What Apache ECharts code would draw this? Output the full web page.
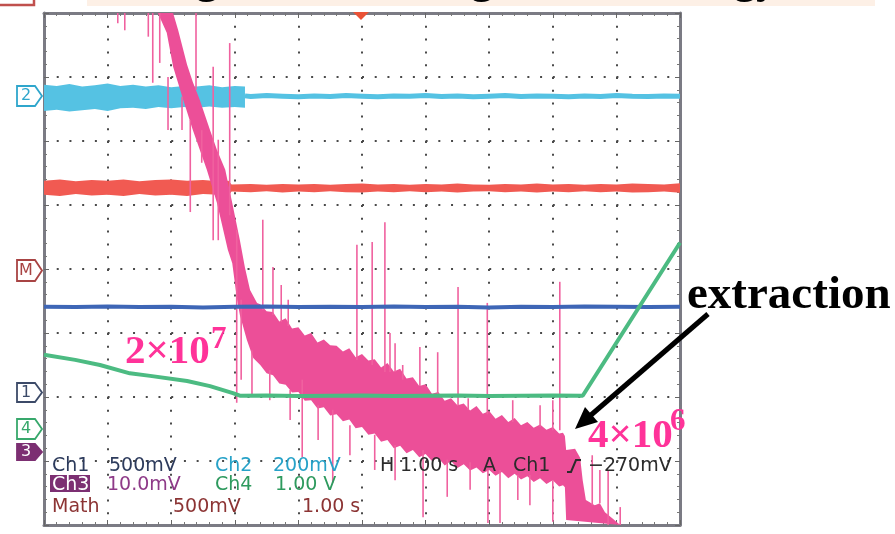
<!DOCTYPE html>
<html>
<head>
<meta charset="utf-8">
<script src="https://cdn.jsdelivr.net/npm/echarts@6/dist/echarts.min.js"></script>
<style>
html,body{margin:0;padding:0;background:#fff;}
#scope{width:895px;height:534px;}
</style>
</head>
<body>
<div id="scope"></div>
<script>
// Time base: 1.00 s/div, 10 divisions. Vertical values are in screen divisions (-4 .. 4).

// Ch2 (cyan): wide noisy band before the step, then a thin trace
const ch2BandT  = [0,0.2,0.4,0.6,0.8,1.0,1.2,1.4,1.6,1.8,2.0,2.2,2.4,2.6,2.8,3.0,3.16];
const ch2BandHi = [2.88,2.86,2.89,2.85,2.87,2.90,2.86,2.88,2.85,2.87,2.84,2.86,2.85,2.87,2.84,2.86,2.85];
const ch2BandLo = [2.47,2.49,2.46,2.48,2.50,2.47,2.51,2.52,2.50,2.53,2.51,2.53,2.52,2.54,2.52,2.53,2.52];
const ch2LineT  = [3.16,3.25,3.5,3.75,4,4.25,4.5,4.75,5,5.25,5.5,5.75,6,6.25,6.5,6.75,7,7.25,7.5,7.75,8,8.25,8.5,8.75,9,9.25,9.5,9.75,10];
const ch2LineV  = [2.705,2.695,2.71,2.70,2.69,2.705,2.695,2.71,2.70,2.69,2.705,2.70,2.71,2.695,2.705,2.69,2.70,2.71,2.695,2.705,2.70,2.69,2.705,2.695,2.71,2.70,2.695,2.705,2.70];

// Red trace: oscillating band, narrower after ~2.9 s
const redT  = [0,0.25,0.5,0.75,1,1.25,1.5,1.75,2,2.25,2.5,2.75,2.9,2.95,3.25,3.5,3.75,4,4.25,4.5,4.75,5,5.25,5.5,5.75,6,6.25,6.5,6.75,7,7.25,7.5,7.75,8,8.25,8.5,8.75,9,9.25,9.5,9.75,10];
const redHi = [1.38,1.40,1.37,1.39,1.38,1.40,1.37,1.39,1.40,1.38,1.39,1.37,1.38,
               1.32,1.33,1.315,1.33,1.32,1.33,1.315,1.33,1.335,1.32,1.33,1.315,1.33,1.32,1.335,1.32,1.315,1.33,1.32,1.335,1.32,1.33,1.315,1.33,1.32,1.335,1.33,1.32,1.34];
const redLo = [1.16,1.14,1.17,1.15,1.16,1.14,1.17,1.15,1.16,1.14,1.17,1.16,1.15,
               1.21,1.20,1.215,1.195,1.21,1.20,1.215,1.20,1.195,1.21,1.20,1.215,1.20,1.21,1.195,1.21,1.215,1.20,1.21,1.195,1.21,1.20,1.215,1.20,1.21,1.195,1.20,1.21,1.19];

// Ch1 (dark blue): flat trace
const ch1T = [0,0.5,1,1.5,2,2.5,3,3.5,4,4.5,5,5.5,6,6.5,7,7.5,8,8.5,9,9.5,10];
const ch1V = [-0.59,-0.595,-0.585,-0.595,-0.59,-0.60,-0.59,-0.585,-0.595,-0.59,-0.595,-0.585,-0.595,-0.59,-0.60,-0.59,-0.595,-0.585,-0.59,-0.595,-0.59];

// Ch4 (green): ramp down, flat top, ramp up at extraction
const ch4T = [0,0.49,0.88,1.35,1.67,2.25,2.61,2.97,3.08,3.5,4,4.5,5,5.5,6,6.5,7,7.5,8,8.47,10];
const ch4V = [-1.34,-1.42,-1.50,-1.63,-1.67,-1.75,-1.83,-1.94,-1.98,-1.975,-1.985,-1.98,-1.975,-1.985,-1.98,-1.975,-1.985,-1.98,-1.975,-1.98,0.41];

// Math (pink): upper and lower envelope of the intensity trace
const mathUpT = [1.79,2.03,2.11,2.25,2.34,2.45,2.61,2.72,2.85,2.96,3.08,3.16,3.24,3.35,
  3.4,3.5,3.6,3.7,3.8,3.9,4.0,4.1,4.2,4.3,4.4,4.5,4.6,4.7,4.8,4.9,5.0,5.1,5.2,5.3,5.4,5.5,5.6,5.7,5.8,5.9,
  6.0,6.1,6.2,6.3,6.4,6.5,6.6,6.7,6.8,6.9,7.0,7.1,7.2,7.3,7.4,7.5,7.6,7.7,7.8,7.9,8.0,8.1,
  8.16,8.19,8.21,8.35,8.43,8.47,8.52,8.66,8.74,8.82,8.93,9.06];
const mathUpV = [4.0,4.0,3.73,3.19,2.92,2.64,2.17,1.86,1.55,1.03,0.45,0.02,-0.33,-0.53,
  -0.55,-0.66,-0.67,-0.82,-0.77,-0.93,-0.91,-1.04,-1.00,-1.15,-1.10,-1.19,-1.20,-1.29,-1.24,-1.38,-1.33,-1.43,-1.41,-1.54,-1.47,-1.60,-1.56,-1.71,-1.69,-1.83,
  -1.80,-1.95,-1.92,-2.06,-2.02,-2.13,-2.10,-2.21,-2.14,-2.26,-2.22,-2.34,-2.28,-2.39,-2.33,-2.44,-2.39,-2.48,-2.43,-2.51,-2.47,-2.57,
  -2.56,-2.61,-2.83,-2.81,-2.95,-3.30,-3.61,-3.69,-3.66,-3.80,-3.89,-4.0];
const mathLoT = [1.79,1.93,2.03,2.19,2.34,2.56,2.72,2.89,2.96,3.03,3.08,3.19,3.29,
  3.4,3.5,3.6,3.7,3.8,3.9,4.0,4.1,4.2,4.3,4.4,4.5,4.6,4.7,4.8,4.9,5.0,5.1,5.2,5.3,5.4,5.5,5.6,5.7,5.8,5.9,
  6.0,6.1,6.2,6.3,6.4,6.5,6.6,6.7,6.8,6.9,7.0,7.1,7.2,7.3,7.4,7.5,7.6,7.7,7.8,7.9,8.0,8.1,
  8.16,8.19,8.21,9.06];
const mathLoV = [4.0,3.69,3.16,2.64,2.17,1.55,1.03,0.30,0.09,-0.44,-0.72,-1.11,-1.39,
  -1.50,-1.63,-1.66,-1.79,-1.81,-1.93,-1.92,-2.06,-2.05,-2.18,-2.16,-2.29,-2.27,-2.38,-2.35,-2.49,-2.47,-2.59,-2.57,-2.70,-2.67,-2.80,-2.76,-2.88,-2.83,-2.94,
  -2.89,-3.00,-2.95,-3.07,-3.00,-3.11,-3.05,-3.15,-3.10,-3.19,-3.14,-3.23,-3.17,-3.27,-3.20,-3.29,-3.24,-3.33,-3.27,-3.36,-3.30,-3.40,
  -3.38,-3.41,-3.92,-4.0];

// Math glitches: [time, top, bottom]
const mathSpikes = [
  [1.16,4.0,3.84],[1.27,4.0,3.73],[1.64,4.0,3.63],[1.71,4.0,2.91],[1.82,4.0,3.22],
  [1.95,3.0,2.17],[2.17,2.69,2.17],[2.30,2.33,0.89],[2.39,4.0,2.80],[2.48,2.17,1.66],
  [2.66,3.16,0.45],[2.74,2.02,0.45],[2.92,3.53,0.84],[3.03,0.61,-2.09],[3.10,-0.48,-1.73],
  [3.27,-1.27,-1.97],[3.44,0.77,-0.64],[3.55,-1.58,-2.05],[3.60,0.03,-0.72],[3.73,-0.25,-0.83],
  [3.84,-0.48,-0.89],[3.87,-1.89,-2.36],[4.06,-1.73,-2.94],[4.31,-2.13,-2.67],[4.54,-2.20,-3.34],
  [4.81,-2.44,-2.91],[4.92,0.38,-1.42],[5.16,0.42,-1.50],[5.20,-2.59,-3.14],[5.36,0.73,-1.61],
  [5.44,-1.0,-1.61],[5.52,-1.16,-1.61],[5.52,-2.75,-3.30],[5.64,-1.50,-1.73],[5.91,-1.22,-1.83],
  [5.96,-2.83,-3.88],[6.19,-1.30,-2.0],[6.34,-2.98,-3.56],[6.51,-0.28,-2.13],[6.67,-2.02,-2.2],
  [6.70,-3.02,-3.45],[6.97,-0.53,-2.27],[6.98,-3.14,-3.97],[7.17,-3.14,-3.97],[7.37,-2.05,-2.39],
  [7.45,-3.22,-3.61],[7.64,-3.22,-3.69],[7.80,-2.13,-2.47],[8.0,-3.30,-3.95],[8.0,-2.05,-2.52],
  [8.11,-0.20,-2.52],[8.62,-2.91,-3.69],[8.74,-3.14,-3.66],[8.87,-3.14,-4.0],[9.06,-3.72,-4.0]
];

const chart = echarts.init(document.getElementById('scope'), null, {renderer: 'canvas'});

function envelope(upT, upV, loT, loV, color, z) {
  return {
    type: 'custom',
    coordinateSystem: 'cartesian2d',
    z: z,
    silent: true,
    data: upT.map((t, i) => [t, upV[i]]),
    encode: {x: 0, y: 1},
    renderItem: function (params, api) {
      if (params.dataIndex !== 0) return null;
      const pts = upT.map((t, i) => api.coord([t, upV[i]]));
      const low = loT.map((t, i) => api.coord([t, loV[i]])).reverse();
      return {type: 'polygon', shape: {points: pts.concat(low)}, style: {fill: color}};
    }
  };
}

const axisGray = '#7b7b84';
const dotGray = '#4a4a4a';

chart.setOption({
  animation: false,
  backgroundColor: '#ffffff',
  grid: {left: 44, top: 13, right: 215, bottom: 9, containLabel: false},
  xAxis: [
    {type: 'value', min: 0, max: 10, interval: 1, position: 'bottom',
     axisLine: {show: true, onZero: false, lineStyle: {color: axisGray, width: 3}},
     axisTick: {show: true, inside: true, length: 5, lineStyle: {color: '#666'}},
     minorTick: {show: true, splitNumber: 5, length: 3, lineStyle: {color: '#777'}},
     axisLabel: {show: false},
     splitLine: {show: true, lineStyle: {color: dotGray, width: 2, type: [2, 10.8]}}},
    {type: 'value', min: 0, max: 10, interval: 1, position: 'top',
     axisLine: {show: true, onZero: false, lineStyle: {color: axisGray, width: 3}},
     axisTick: {show: true, inside: true, length: 5, lineStyle: {color: '#666'}},
     minorTick: {show: true, splitNumber: 5, length: 3, lineStyle: {color: '#777'}},
     axisLabel: {show: false}, splitLine: {show: false}}
  ],
  yAxis: [
    {type: 'value', min: -4, max: 4, interval: 1, position: 'left',
     axisLine: {show: true, onZero: false, lineStyle: {color: axisGray, width: 3}},
     axisTick: {show: true, inside: true, length: 5, lineStyle: {color: '#666'}},
     minorTick: {show: true, splitNumber: 5, length: 3, lineStyle: {color: '#777'}},
     axisLabel: {show: false},
     splitLine: {show: true, lineStyle: {color: dotGray, width: 2, type: [2, 10.72]}}},
    {type: 'value', min: -4, max: 4, interval: 1, position: 'right',
     axisLine: {show: true, onZero: false, lineStyle: {color: axisGray, width: 3}},
     axisTick: {show: true, inside: true, length: 5, lineStyle: {color: '#666'}},
     minorTick: {show: true, splitNumber: 5, length: 3, lineStyle: {color: '#777'}},
     axisLabel: {show: false}, splitLine: {show: false}}
  ],
  series: [
    envelope(ch2BandT, ch2BandHi, ch2BandT, ch2BandLo, '#55c2e3', 2),
    {type: 'line', name: 'Ch2', z: 2, showSymbol: false, silent: true,
     data: ch2LineT.map((t, i) => [t, ch2LineV[i]]),
     lineStyle: {color: '#55c2e3', width: 5}},
    envelope(redT, redHi, redT, redLo, '#f15a52', 3),
    envelope(mathUpT, mathUpV, mathLoT, mathLoV, '#ec4f98', 4),
    {type: 'custom', name: 'Math glitches', coordinateSystem: 'cartesian2d', z: 4, silent: true,
     data: mathSpikes, encode: {x: 0, y: [1, 2]},
     renderItem: function (params, api) {
       const a = api.coord([api.value(0), api.value(1)]);
       const b = api.coord([api.value(0), api.value(2)]);
       return {type: 'line', shape: {x1: a[0], y1: a[1], x2: b[0], y2: b[1]},
               style: {stroke: '#f0619f', lineWidth: 1.6}};
     }},
    {type: 'line', name: 'Ch1', z: 5, showSymbol: false, silent: true,
     data: ch1T.map((t, i) => [t, ch1V[i]]),
     lineStyle: {color: '#3e66b6', width: 4}},
    {type: 'line', name: 'Ch4', z: 6, showSymbol: false, silent: true,
     data: ch4T.map((t, i) => [t, ch4V[i]]),
     lineStyle: {color: '#4cbb82', width: 4}}
  ],
  graphic: {elements: buildOverlay()}
});

function marker(y0, y1, label, color, filled) {
  const mid = (y0 + y1) / 2;
  return [
    {type: 'polygon', z: 100,
     shape: {points: [[17, y0], [35, y0], [42, mid], [35, y1], [17, y1]]},
     style: {fill: filled ? color : '#ffffff', stroke: color, lineWidth: 1.8}},
    {type: 'text', z: 101, x: 26, y: mid,
     style: {text: label, fill: filled ? '#ffffff' : color, font: '16px "DejaVu Sans"',
             align: 'center', verticalAlign: 'middle'}}
  ];
}

function readout(x, baseline, str, color) {
  // canvas "middle" sits ~0.3 em above the baseline for DejaVu Sans
  return {type: 'text', z: 110, x: x, y: baseline - 5.6,
          style: {text: str, fill: color, font: '19px "DejaVu Sans"', verticalAlign: 'middle'}};
}

function buildOverlay() {
  const els = [];
  const serifB = '"Liberation Serif", "Times New Roman", serif';
  // slide header remnants at the top edge
  els.push({type: 'rect', z: 90, shape: {x: 87, y: -2, width: 788, height: 8}, style: {fill: '#fdf0e6'}});
  els.push({type: 'rect', z: 90, shape: {x: -4, y: -10, width: 38, height: 15}, style: {fill: '#ffffff', stroke: '#c0504d', lineWidth: 2.5}});
  els.push({type: 'text', z: 91, x: 196, y: -18.5, style: {text: 'g', fill: '#000', font: 'bold 44px ' + serifB, verticalAlign: 'middle'}});
  els.push({type: 'text', z: 91, x: 471, y: -18.5, style: {text: 'g', fill: '#000', font: 'bold 44px ' + serifB, verticalAlign: 'middle'}});
  els.push({type: 'text', z: 91, x: 734, y: -18.5, style: {text: 'gy', fill: '#000', font: 'bold 44px ' + serifB, verticalAlign: 'middle'}});
  // trigger position marker
  els.push({type: 'polygon', z: 100, shape: {points: [[353, 12], [369, 12], [361, 20]]}, style: {fill: '#ea5236'}});
  // channel reference markers
  els.push(...marker(86, 106, '2', '#2fa6cc', false));
  els.push(...marker(260, 281, 'M', '#a84444', false));
  els.push(...marker(383, 402, '1', '#3c4a68', false));
  els.push(...marker(419, 439, '4', '#38a86c', false));
  els.push(...marker(444, 460, '3', '#7c2f72', true));

  // scope readout
  els.push(readout(52, 472, 'Ch1', '#2d3b5c'));
  els.push(readout(109, 472, '500mV', '#2d3b5c'));
  els.push(readout(215, 472, 'Ch2', '#27a2c8'));
  els.push(readout(273, 472, '200mV', '#27a2c8'));
  els.push(readout(380, 472, 'H', '#2b2b2b'));
  els.push(readout(400, 472, '1.00 s', '#2b2b2b'));
  els.push(readout(483, 472, 'A', '#2b2b2b'));
  els.push(readout(513, 472, 'Ch1', '#2b2b2b'));
  els.push({type: 'polyline', z: 110, shape: {points: [[567, 472], [571, 472], [576, 460], [581, 460]]},
            style: {stroke: '#2b2b2b', lineWidth: 2, fill: null}});
  els.push(readout(588, 472, '\u2212270mV', '#2b2b2b'));

  els.push({type: 'rect', z: 109, shape: {x: 50, y: 475, width: 40, height: 17}, style: {fill: '#7c2f72'}});
  els.push(readout(52, 491, 'Ch3', '#ffffff'));
  els.push(readout(107, 491, '10.0mV', '#8e3a88'));
  els.push(readout(215, 491, 'Ch4', '#2e9a5e'));
  els.push(readout(275, 491, '1.00 V', '#2e9a5e'));

  els.push(readout(52, 513, 'Math', '#8c3434'));
  els.push(readout(173, 513, '500mV', '#8c3434'));
  els.push(readout(302, 513, '1.00 s', '#8c3434'));

  // annotations
  const pink = '#ff3399';
  els.push({type: 'text', z: 120, x: 125, y: 352,
            style: {text: '2\u00d710', fill: pink, font: 'bold 41px ' + serifB, verticalAlign: 'middle'}});
  els.push({type: 'text', z: 120, x: 211, y: 340,
            style: {text: '7', fill: pink, font: 'bold 31px ' + serifB, verticalAlign: 'middle'}});
  els.push({type: 'text', z: 120, x: 588, y: 436,
            style: {text: '4\u00d710', fill: pink, font: 'bold 41px ' + serifB, verticalAlign: 'middle'}});
  els.push({type: 'text', z: 120, x: 670, y: 422,
            style: {text: '6', fill: pink, font: 'bold 31px ' + serifB, verticalAlign: 'middle'}});
  els.push({type: 'text', z: 120, x: 687, y: 296,
            style: {text: 'extraction', fill: '#000000', font: 'bold 47px ' + serifB, verticalAlign: 'middle'}});
  // arrow to the extraction point
  els.push({type: 'line', z: 120, shape: {x1: 708, y1: 314, x2: 591, y2: 415},
            style: {stroke: '#000000', lineWidth: 5}});
  els.push({type: 'polygon', z: 120, shape: {points: [[575, 429], [598, 422], [585, 407]]},
            style: {fill: '#000000'}});
  return els;
}
</script>
</body>
</html>
